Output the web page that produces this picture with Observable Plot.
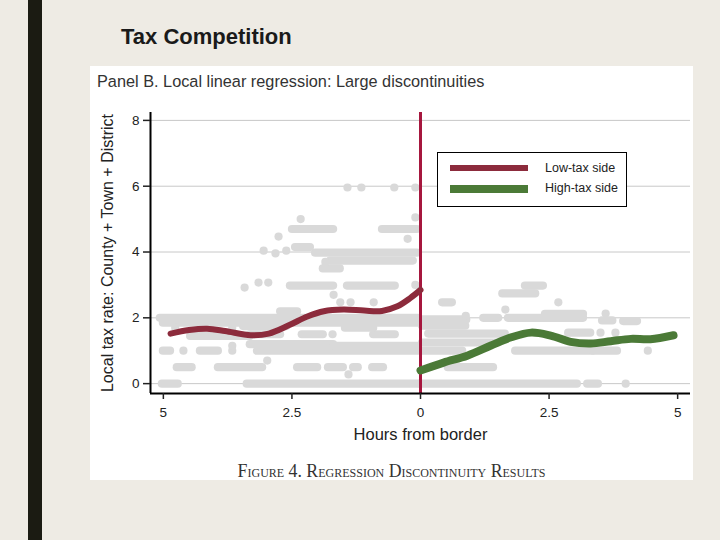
<!DOCTYPE html>
<html><head><meta charset="utf-8">
<script src="https://cdn.jsdelivr.net/npm/d3@7"></script>
<script src="https://cdn.jsdelivr.net/npm/@observablehq/plot@0.6"></script>
<style>
body{margin:0;width:720px;height:540px;background:#eeebe4;position:relative;overflow:hidden;font-family:"Liberation Sans",Arial,sans-serif}
#bar{position:absolute;left:28px;top:0;width:14px;height:540px;background:#1b1b12}
#title{position:absolute;left:121px;top:26px;font-weight:bold;font-size:22px;line-height:22px;color:#1a1a1a;white-space:nowrap}
#panel{position:absolute;left:90px;top:66px;width:603px;height:414px;background:#fff}
#ptitle{position:absolute;left:7px;top:7px;font-size:16.3px;line-height:16px;color:#333;white-space:nowrap}
#chart{position:absolute;left:0;top:0}
#caption{position:absolute;left:0;top:396px;width:603px;text-align:center;font-family:"Liberation Serif","Times New Roman",serif;font-size:17.8px;line-height:18px;font-variant:small-caps;color:#333;white-space:nowrap}
#legend{position:absolute;left:347px;top:86px;width:190px;height:55px;box-sizing:border-box;border:1.5px solid #000;background:#fff}
.sw{position:absolute;left:12px;width:78px}
.lt{position:absolute;left:107px;font-size:12.5px;line-height:13px;color:#222;white-space:nowrap}
</style></head>
<body>
<div id="bar"></div>
<div id="title">Tax Competition</div>
<div id="panel">
  <div id="chart"></div>
  <div id="ptitle">Panel B. Local linear regression: Large discontinuities</div>
  <div id="legend">
    <div class="sw" style="top:12px;height:6px;background:#8c2b3c"></div>
    <div class="lt" style="top:9px">Low-tax side</div>
    <div class="sw" style="top:32px;height:8px;background:#4b7a37"></div>
    <div class="lt" style="top:29px">High-tax side</div>
  </div>
  <div id="caption">Figure 4. Regression Discontinuity Results</div>
</div>
<script>
// Scatter rows of overlapping observations: [taxRate, hoursFrom, hoursTo] (low-tax side negative)
const leftRuns = [
  [0, -5.02, -4.71], [0, -3.37, -0.04],
  [0.5, -4.73, -4.44], [0.5, -3.93, -3.07], [0.5, -2.39, -2.0], [0.5, -1.79, -1.5],
  [0.5, -1.3, -1.21], [0.5, -0.93, -0.72],
  [1.0, -5.0, -4.86], [1.0, -4.28, -3.93], [1.0, -3.17, -0.04],
  [1.2, -3.31, -1.69], [1.15, -1.69, -0.04],
  [1.45, -4.47, -3.31], [1.5, -3.31, -2.72], [1.5, -2.3, -1.89], [1.5, -0.91, -0.49],
  [1.75, -3.44, -2.6], [1.7, -1.46, -0.91],
  [1.85, -5.0, -0.04], [2.0, -5.06, -0.04],
  [2.2, -2.72, -2.39],
  [2.98, -2.53, -1.69], [2.98, -1.42, -0.49],
  [3.5, -1.89, -1.56], [3.74, -1.75, -0.14], [3.98, -2.04, -0.06], [4.15, -2.43, -2.14],
  [4.7, -2.49, -1.69], [4.7, -0.74, -0.06]
];
const rightRuns = [
  [0, 0.0, 3.05], [0, 3.25, 3.46],
  [0.5, 0.54, 1.42],
  [1.0, 0.04, 0.82], [1.0, 1.85, 3.35], [1.0, 3.37, 3.83],
  [1.25, 0.04, 1.52], [1.52, 0.16, 1.65], [1.76, 0.04, 0.88],
  [1.95, 0.04, 0.9], [2.0, 1.23, 1.52], [2.0, 1.71, 3.17], [2.12, 2.43, 3.17],
  [1.55, 2.88, 3.31], [1.92, 3.54, 3.74], [1.9, 3.95, 4.22],
  [2.74, 1.6, 2.24], [2.98, 2.04, 2.39], [2.47, 0.43, 0.62]
];
// Isolated observations: [hours, taxRate]
const leftDots = [
  [-1.42, 5.96], [-1.15, 5.96], [-0.51, 5.96], [-0.1, 5.96],
  [-2.33, 5.0], [-0.1, 5.05], [-0.25, 4.4], [-2.76, 4.47],
  [-3.05, 4.04], [-2.82, 3.96], [-2.61, 4.04], [-1.85, 3.7],
  [-3.42, 2.92], [-3.15, 3.07], [-2.96, 3.07], [-0.1, 3.0],
  [-1.69, 2.7], [-1.56, 2.47], [-1.36, 2.47], [-0.91, 2.47],
  [-4.77, 1.7], [-3.66, 1.7], [-1.71, 1.5],
  [-4.61, 1.0], [-3.66, 1.0], [-3.66, 1.15], [-2.98, 0.7], [-1.4, 0.28]
];
const rightDots = [
  [3.99, 0], [3.5, 1.55], [3.79, 1.55], [4.42, 1.0], [2.68, 2.47],
  [3.6, 2.13], [1.65, 2.25], [0.88, 2.06]
];
// Local linear fits
const lowTaxX = [-4.86, -4.5, -4.15, -3.8, -3.3, -2.95, -2.55, -2.2, -1.88, -1.5, -1.1, -0.75, -0.45, -0.2, 0];
const lowTaxY = [1.52, 1.63, 1.67, 1.6, 1.47, 1.52, 1.78, 2.04, 2.2, 2.25, 2.22, 2.21, 2.35, 2.6, 2.85];
const highTaxX = [0, 0.45, 0.91, 1.36, 1.75, 2.15, 2.53, 2.92, 3.31, 3.7, 4.09, 4.47, 4.92];
const highTaxY = [0.4, 0.64, 0.85, 1.15, 1.4, 1.55, 1.46, 1.27, 1.22, 1.29, 1.36, 1.35, 1.47];
const yTicks = [0, 2, 4, 6, 8];
const xTicks = [-5, -2.5, 0, 2.5, 5];
const xLabel = "Hours from border";
const yLabel = "Local tax rate: County + Town + District";

const runs = leftRuns.concat(rightRuns).map(([y, x1, x2]) => ({y, x1, x2}));
const dots = leftDots.concat(rightDots).map(([x, y]) => ({x, y}));
const low = lowTaxX.map((x, i) => ({x, y: lowTaxY[i]}));
const high = highTaxX.map((x, i) => ({x, y: highTaxY[i]}));
const dotColor = "#d9d9d9";

const chart = Plot.plot({
  width: 603, height: 414,
  marginLeft: 60, marginRight: 3, marginTop: 46, marginBottom: 87,
  x: {domain: [-5.25, 5.25]},
  y: {domain: [-0.3, 8.24]},
  style: {fontFamily: "'Liberation Sans', Arial, sans-serif", fontSize: "13.5px", color: "#222", background: "transparent", overflow: "visible"},
  marks: [
    Plot.ruleY(yTicks, {stroke: "#c8c8c8", strokeWidth: 1}),
    Plot.ruleY(runs, {y: "y", x1: "x1", x2: "x2", stroke: dotColor, strokeWidth: 8.2, strokeLinecap: "round"}),
    Plot.dot(dots, {x: "x", y: "y", r: 4.1, fill: dotColor}),
    Plot.ruleX([0], {stroke: "#a6173e", strokeWidth: 3}),
    Plot.line(low, {x: "x", y: "y", stroke: "#8c2b3c", strokeWidth: 6, curve: "catmull-rom"}),
    Plot.line(high, {x: "x", y: "y", stroke: "#4b7a37", strokeWidth: 8, curve: "catmull-rom"}),
    Plot.ruleX([-5.25], {stroke: "#000", strokeWidth: 2}),
    Plot.ruleY([-0.3], {stroke: "#000", strokeWidth: 2}),
    Plot.axisY({ticks: yTicks, tickSize: 7, tickPadding: 4, strokeWidth: 1.5, label: null, fontSize: 13.5}),
    Plot.axisX({ticks: xTicks, tickFormat: d => String(Math.abs(d)), tickSize: 6, tickPadding: 8, strokeWidth: 1.5, label: null, fontSize: 13.5}),
    Plot.text([xLabel], {text: d => d, frameAnchor: "bottom", dy: 46, fontSize: 16.5, fill: "#222"}),
    Plot.text([yLabel], {text: d => d, frameAnchor: "left", textAnchor: "middle", rotate: -90, dx: -43, fontSize: 16, fill: "#222"})
  ]
});
document.getElementById("chart").appendChild(chart);
</script>
</body></html>
